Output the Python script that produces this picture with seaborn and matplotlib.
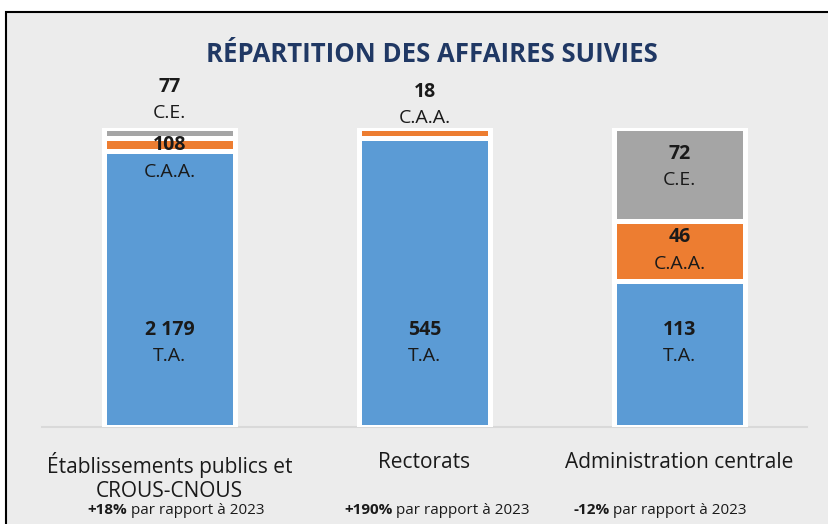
import matplotlib
matplotlib.use("Agg")
import matplotlib.pyplot as plt
from matplotlib.patches import Rectangle
import seaborn as sns
import numpy as np
import pandas as pd

# Données
categories = ["Établissements publics et\nCROUS-CNOUS", "Rectorats", "Administration centrale"]
ta = [2179, 545, 113]
caa = [108, 18, 46]
ce = [77, 0, 72]
evol_bold = ["+18%", "+190%", "-12%"]
evol_text = "par rapport à 2023"

# Style
sns.set_theme(style="white")
plt.rcParams["font.family"] = ["Open Sans", "DejaVu Sans"]

BG = "#ececec"
C_TA = "#5b9bd5"
C_CAA = "#ed7d31"
C_CE = "#a5a5a5"
TXT = "#1a1a1a"

tot = np.array(ta) + np.array(caa) + np.array(ce)
p_ta = np.array(ta) / tot
p_caa = np.array(caa) / tot
p_ce = np.array(ce) / tot

df = pd.DataFrame({
    "cat": categories,
    "top_ce": p_ta + p_caa + p_ce,
    "top_caa": p_ta + p_caa,
    "top_ta": p_ta,
})

W, H = 829, 524
fig = plt.figure(figsize=(W / 100, H / 100), dpi=100)
fig.patch.set_facecolor("white")
fig.patches.append(Rectangle((6 / W, -0.1), 1.2, 1 - 12 / H + 0.1, transform=fig.transFigure,
                             facecolor=BG, edgecolor="black", linewidth=1.5, zorder=-10))

ax = fig.add_axes([42 / W, (H - 427) / H, 765 / W, 299 / H])
ax.set_facecolor("none")

# barres empilées (superposées du haut vers le bas)
for col, c in [("top_ce", C_CE), ("top_caa", C_CAA), ("top_ta", C_TA)]:
    sns.barplot(data=df, x="cat", y=col, color=c, saturation=1, width=0.515,
                edgecolor="white", linewidth=3.6, ax=ax)

ax.set_xlim(-0.5, 2.5)
ax.set_ylim(0, 1)
ax.set_xlabel("")
ax.set_ylabel("")
ax.set_yticks([])
ax.set_xticks([])
for s in ["top", "left", "right"]:
    ax.spines[s].set_visible(False)
ax.spines["bottom"].set_color("#d9d9d9")
ax.spines["bottom"].set_linewidth(1.5)
ax.spines["bottom"].set_zorder(0)

# étiquettes (position verticale du centre de chaque paire)
label_pos = {
    (0, "T.A."): 0.28, (0, "C.A.A."): 0.898, (0, "C.E."): 1.094,
    (1, "T.A."): 0.28, (1, "C.A.A."): 1.077,
    (2, "T.A."): 0.28, (2, "C.A.A."): 0.59, (2, "C.E."): 0.87,
}
vals = {"T.A.": ta, "C.A.A.": caa, "C.E.": ce}


def fmt(v):
    return f"{v:,}".replace(",", " ")


for (i, name), y in label_pos.items():
    v = vals[name][i]
    ax.annotate(fmt(v), (i, y), xytext=(0, 9.5), textcoords="offset points",
                ha="center", va="center", fontsize=14, fontweight="bold",
                color=TXT, annotation_clip=False)
    ax.annotate(name, (i, y), xytext=(0, -9.5), textcoords="offset points",
                ha="center", va="center", fontsize=14, color=TXT,
                annotation_clip=False)

# libellés des catégories
for i, cat in enumerate(categories):
    ax.annotate(cat, (i, 0), xytext=(0, -18), textcoords="offset points",
                ha="center", va="top", fontsize=15, color=TXT,
                linespacing=1.2, annotation_clip=False)

# évolution par rapport à 2023
evol_x = [176, 437, 660]
fig.canvas.draw()
rend = fig.canvas.get_renderer()
for i, b in enumerate(evol_bold):
    t1 = fig.text(0, (H - 510) / H, b, fontsize=11, fontweight="bold", color=TXT,
                  va="center", ha="left")
    t2 = fig.text(0, (H - 510) / H, " " + evol_text, fontsize=11, color=TXT,
                  va="center", ha="left")
    w1 = t1.get_window_extent(rend).width
    w2 = t2.get_window_extent(rend).width
    x0 = evol_x[i] - (w1 + w2) / 2
    t1.set_x(x0 / W)
    t2.set_x((x0 + w1) / W)

fig.text(432 / W, (H - 54) / H, "RÉPARTITION DES AFFAIRES SUIVIES", ha="center",
         va="center", fontsize=18.5, fontweight="bold", color="#203864")

fig.savefig("out.png", dpi=100, facecolor=fig.get_facecolor())
